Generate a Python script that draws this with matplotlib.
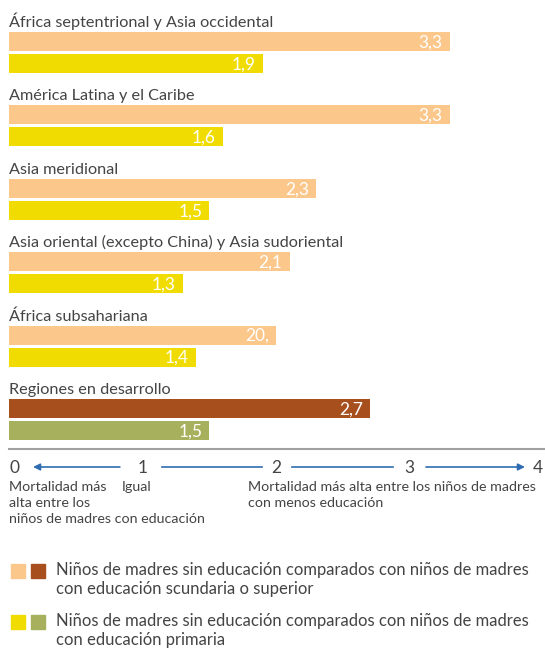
import matplotlib
matplotlib.use('Agg')
from matplotlib import pyplot as plt

# data
regions = ['África septentrional y Asia occidental',
           'América Latina y el Caribe',
           'Asia meridional',
           'Asia oriental (excepto China) y Asia sudoriental',
           'África subsahariana',
           'Regiones en desarrollo']
secundaria = [3.3, 3.3, 2.3, 2.1, 2.0, 2.7]
primaria = [1.9, 1.6, 1.5, 1.3, 1.4, 1.5]
# value labels exactly as printed (one of them is "20," in the original)
secundaria_labels = ['3,3', '3,3', '2,3', '2,1', '20,', '2,7']
primaria_labels = ['1,9', '1,6', '1,5', '1,3', '1,4', '1,5']
axis_ticks = [0, 1, 2, 3, 4]

left_note = ['Mortalidad más', 'alta entre los', 'niños de madres con educación']
legend_texts = ['Niños de madres sin educación comparados con niños de madres\ncon educación scundaria o superior',
                'Niños de madres sin educación comparados con niños de madres\ncon educación primaria']

orange_light = '#FBC78A'
orange_dark = '#A84F1E'
yellow = '#F0DC00'
olive = '#A7B05C'
text_gray = '#444444'
blue = '#2F6DB0'

plt.rcParams['font.family'] = ['Lato', 'DejaVu Sans']

fig = plt.figure(figsize=(5.45, 6.5), dpi=100)
ax = fig.add_axes([0, 0, 1, 1])
px = 133.6  # pixels per unit on the x scale
ax.set_xlim(-9 / px, (545 - 9) / px)
ax.set_ylim(650, 0)  # y in pixels, top down
ax.axis('off')

step = 73.4
bar_h = 19
for i, name in enumerate(regions):
    top = 32 + step * i
    last = (i == len(regions) - 1)
    c1 = orange_dark if last else orange_light
    c2 = olive if last else yellow
    ax.text(0, top - 5, name, fontsize=11.7, color=text_gray, va='baseline')
    ax.barh(top + bar_h / 2, secundaria[i], height=bar_h, left=0, color=c1)
    ax.barh(top + 22 + bar_h / 2, primaria[i], height=bar_h, left=0, color=c2)
    ax.text(secundaria[i] - 7 / px, top + bar_h / 2 + 1, secundaria_labels[i], color='white',
            fontsize=12.5, ha='right', va='center')
    ax.text(primaria[i] - 7 / px, top + 22 + bar_h / 2 + 1, primaria_labels[i], color='white',
            fontsize=12.5, ha='right', va='center')

# separator line
ax.plot([0, 536 / px], [449, 449], color='#a0a0a0', lw=1.5, clip_on=False)

# axis row with arrows
ya = 467
for t in axis_ticks:
    ha = 'left' if t == 0 else ('right' if t == 4 else 'center')
    ax.text(t, ya + 1, str(t), fontsize=12.5, color=text_gray, ha=ha, va='center')
arrow = dict(arrowstyle='-|>', color=blue, lw=1.2, mutation_scale=10, shrinkA=0, shrinkB=0)
ax.annotate('', xy=(0.18, ya), xytext=(0.83, ya), arrowprops=arrow)
ax.plot([1.145, 1.894], [ya, ya], color=blue, lw=1.2)
ax.plot([2.118, 2.874], [ya, ya], color=blue, lw=1.2)
ax.annotate('', xy=(3.862, ya), xytext=(3.121, ya), arrowprops=arrow)

fs = 10.3
for k, line in enumerate(left_note):
    ax.text(0, 481 + 16 * k, line, fontsize=fs, color=text_gray, va='top')
ax.text(113 / px, 481, 'Igual', fontsize=fs, color=text_gray, va='top')
ax.text(239 / px, 481, 'Mortalidad más alta entre los niños de madres\ncon menos educación', fontsize=fs,
        color=text_gray, va='top', linespacing=1.42)

# legend
legend_colors = [(orange_light, orange_dark), (yellow, olive)]
legend_y = [571, 622]
for (ca, cb), y, txt in zip(legend_colors, legend_y, legend_texts):
    ax.add_patch(plt.Rectangle((2 / px, y - 7), 14 / px, 14, color=ca, clip_on=False))
    ax.add_patch(plt.Rectangle((22 / px, y - 7), 14 / px, 14, color=cb, clip_on=False))
    ax.text(47 / px, y - 9, txt, fontsize=12, color=text_gray, va='top',
            linespacing=1.25)

fig.savefig('out.png', dpi=100)
